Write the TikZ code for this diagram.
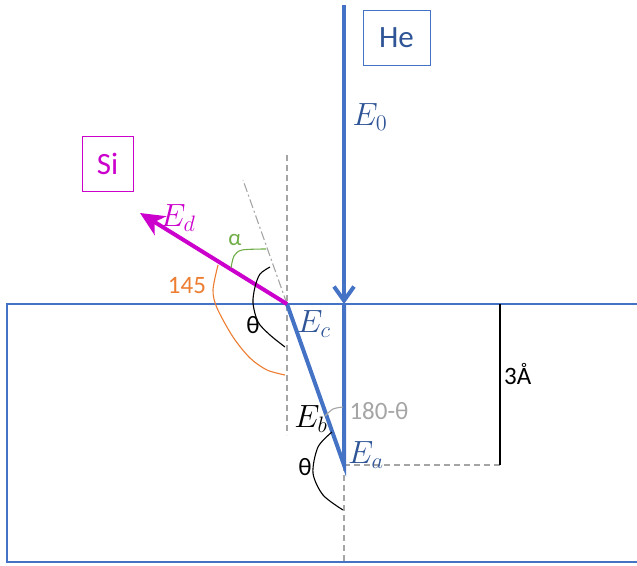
\documentclass[tikz,border=0pt]{standalone}
\usepackage{fontspec}
\setmainfont{Carlito}
\usetikzlibrary{arrows.meta}
\definecolor{cblue}{RGB}{68,114,196}
\definecolor{dblue}{RGB}{47,85,151}
\definecolor{mag}{RGB}{204,0,204}
\definecolor{corange}{RGB}{237,125,49}
\definecolor{cgreen}{RGB}{112,173,71}
\definecolor{cgray}{RGB}{165,165,165}
\newcommand{\enlbl}[1]{\scalebox{1.55}{$#1$}}
\begin{document}
\begin{tikzpicture}[x=1pt,y=-1pt,
  beam/.style={line width=4pt,cblue},
  guide/.style={cgray,line width=1.3pt,dash pattern=on 6pt off 4pt},
  lbl/.style={inner sep=0pt,font=\fontsize{25}{27}\selectfont},
  mlbl/.style={inner sep=0pt,font=\fontsize{20.74}{24}\selectfont},
  boxlbl/.style={draw,line width=1pt,minimum width=67pt,minimum height=55pt,inner sep=0pt,font=\fontsize{31}{33}\selectfont},
  arcl/.style={line width=1.1pt}]
\useasboundingbox (0,0) rectangle (637,565);
% coordinates
\coordinate (top) at (344,5);
\coordinate (S) at (344,304);
\coordinate (Ea) at (344,465);
\coordinate (Ec) at (287,304);
\coordinate (Ed) at (140,213);
\coordinate (ext) at (243,180);
\coordinate (vt) at (287,155);
\coordinate (vb) at (287,435);
\coordinate (bot) at (344,562);
\coordinate (hr) at (500,465);
\coordinate (ht) at (500,304);
% surface box
\draw[cblue,line width=1.4pt] (640,304) -- (7,304) -- (7,562) -- (640,562);
% guides
\draw[guide] (vt) -- (vb);
\draw[guide] (Ea) -- (bot);
\draw[guide] (Ea) -- (hr);
\draw[cgray,line width=1.1pt,dash pattern=on 9pt off 3pt on 2pt off 3pt] (Ec) -- (ext);
% depth
\draw[black,line width=1.5pt] (ht) -- (hr);
\node[lbl,anchor=west] (d3) at (504,374) {3Å};
% beams
\draw[beam,-{Straight Barb[length=14pt,width=20pt]}] (top) -- (S);
\draw[beam] (S) -- (Ea) -- (Ec);
\draw[line width=4pt,mag,-{Stealth[length=24pt,width=22pt,inset=7pt]}] (Ec) -- (Ed);
% boxes
\node[boxlbl,draw=cblue,text=dblue] (he) at (396.5,37.5) {He};
\node[boxlbl,draw=mag,text=mag,minimum width=51pt,minimum height=55pt] (si) at (107.5,164) {Si};
% energy labels
\node[mlbl,text=dblue] (e0) at (370,117) {\enlbl{E_0}};
\node[mlbl,text=mag] (ed) at (178,218) {\enlbl{E_d}};
\node[mlbl,text=dblue] (ec) at (314,324) {\enlbl{E_c}};
\node[mlbl,text=black] (eb) at (311,419) {\enlbl{E_b}};
\node[mlbl,text=dblue] (ea) at (366,455) {\enlbl{E_a}};
% angle arcs
\draw[cgreen,arcl] plot[smooth] coordinates {(231,268) (234,256) (242,250) (266,249)};
\node[lbl,text=cgreen,font=\fontsize{23}{25}\selectfont] (al) at (235,240) {α};
\draw[black,arcl] plot[smooth] coordinates {(270,267) (260,274) (255,287) (253,303) (258,322) (270,335) (285,347)};
\node[lbl] (th1) at (253,325) {θ};
\draw[corange,arcl] plot[smooth] coordinates {(218,265) (213,290) (217,308) (233,337) (250,358) (267,370) (285,375)};
\node[lbl,text=corange] (n145) at (187,286) {145};
\draw[cgray,arcl] plot[smooth] coordinates {(325,416) (333,409) (343,407)};
\node[lbl,text=cgray] (n180) at (379,411) {180-θ};
\draw[black,arcl] plot[smooth] coordinates {(332,432) (318,447) (313,473) (323,495) (343,510)};
\node[lbl] (th2) at (305,467) {θ};
\end{tikzpicture}
\end{document}
